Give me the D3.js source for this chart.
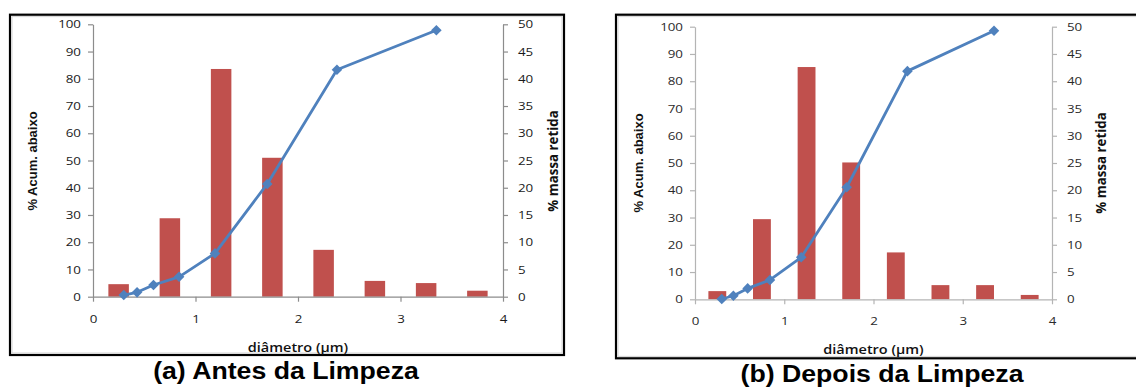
<!DOCTYPE html>
<html>
<head>
<meta charset="utf-8">
<script src="https://cdn.jsdelivr.net/npm/d3@7"></script>
<style>
  html, body { margin: 0; padding: 0; background: #fff; }
  svg { display: block; }
  .tick text { font-family: "Open Sans", "DejaVu Sans", sans-serif; }
</style>
</head>
<body>
<svg id="chart" width="1136" height="390"></svg>
<script>
// Particle size distribution, before and after cleaning
const diameters = [0.30, 0.43, 0.59, 0.84, 1.19, 1.70, 2.38, 3.35];   // µm
const cumBefore = [0.6, 1.6, 4.3, 7.3, 15.9, 41.4, 83.3, 97.8];        // % acumulado abaixo
const cumAfter  = [0.1, 1.3, 4.0, 7.1, 15.4, 41.1, 83.7, 98.5];
const sizeClasses = ["1", "2", "3", "4", "5", "6", "7", "8"];           // retained-mass size classes
const massBefore = [2.3, 14.4, 41.8, 25.5, 8.6, 2.9, 2.5, 1.1];         // % massa retida
const massAfter  = [1.5, 14.7, 42.6, 25.1, 8.6, 2.6, 2.6, 0.8];
const xTicks = [0, 1, 2, 3, 4];
const leftTicks = [0, 10, 20, 30, 40, 50, 60, 70, 80, 90, 100];
const rightTicks = [0, 5, 10, 15, 20, 25, 30, 35, 40, 45, 50];
const captions = ["(a) Antes da Limpeza", "(b) Depois da Limpeza"];
const xTitle = "diâmetro (µm)";
const leftTitle = "% Acum. abaixo";
const rightTitle = "% massa retida";

const svg = d3.select("#chart");
const BAR = "#C0504D", LINE = "#4F81BD";
const WIDEN = 1.16;   // horizontal text widening used throughout the figure

function drawPanel(p) {
  const g = svg.append("g");

  // frame
  g.append("rect")
    .attr("x", p.frame[0]).attr("y", p.frame[1])
    .attr("width", p.frame[2] - p.frame[0]).attr("height", p.frame[3] - p.frame[1])
    .attr("fill", "none").attr("stroke", "#000").attr("stroke-width", 2.2);
  g.append("rect")
    .attr("x", p.frame[0] + 2).attr("y", p.frame[1] + 2)
    .attr("width", p.frame[2] - p.frame[0] - 4).attr("height", p.frame[3] - p.frame[1] - 4)
    .attr("fill", "none").attr("stroke", "#c8c8c8").attr("stroke-width", 0.8);

  const x = d3.scaleLinear().domain([0, 4]).range([p.x0, p.x1]);
  const yL = d3.scaleLinear().domain([0, 100]).range([p.yB, p.yT]);
  const yR = d3.scaleLinear().domain([0, 50]).range([p.yB, p.yT]);
  const band = d3.scaleBand().domain(sizeClasses).range([p.x0, p.x1]).paddingInner(0.6).paddingOuter(0.3);

  // bars (% massa retida, right axis)
  g.append("g").selectAll("rect").data(p.mass).join("rect")
    .attr("x", (d, i) => band(sizeClasses[i]))
    .attr("width", band.bandwidth())
    .attr("y", d => yR(d))
    .attr("height", d => yR(0) - yR(d))
    .attr("fill", BAR);

  // axes
  const styleAxis = (sel) => {
    sel.selectAll("path, line").attr("stroke", p.axisColor).attr("stroke-width", 1.2);
    sel.selectAll("text")
      .attr("fill", p.textColor).attr("font-size", p.tickFont)
      .each(function () {
        const t = d3.select(this);
        const tx = +t.attr("x") || 0;
        t.attr("x", 0).attr("transform", `translate(${tx},0) scale(${WIDEN},1)`);
      });
  };
  g.append("g").attr("transform", `translate(0,${p.yB})`)
    .call(d3.axisBottom(x).tickValues(xTicks).tickFormat(d3.format("d")).tickSize(5).tickSizeOuter(0).tickPadding(13))
    .call(styleAxis);
  g.append("g").attr("transform", `translate(${p.x0},0)`)
    .call(d3.axisLeft(yL).tickValues(leftTicks).tickSize(5).tickSizeOuter(0).tickPadding(7))
    .call(styleAxis);
  g.append("g").attr("transform", `translate(${p.x1},0)`)
    .call(d3.axisRight(yR).tickValues(rightTicks).tickSize(5).tickSizeOuter(0).tickPadding(10))
    .call(styleAxis);

  // cumulative line (% acumulado, left axis)
  const pts = diameters.map((d, i) => [d, p.cum[i]]);
  g.append("path").datum(pts)
    .attr("fill", "none").attr("stroke", LINE).attr("stroke-width", 2.8)
    .attr("stroke-linejoin", "round")
    .attr("d", d3.line().x(d => x(d[0])).y(d => yL(d[1])));
  g.append("g").selectAll("path").data(pts).join("path")
    .attr("transform", d => `translate(${x(d[0])},${yL(d[1])}) rotate(45)`)
    .attr("d", d3.symbol(d3.symbolSquare, 56))
    .attr("fill", LINE);

  // axis titles
  g.append("text")
    .attr("transform", `translate(${(p.x0 + p.x1) / 2},${p.xTitleY}) scale(${WIDEN},1)`)
    .attr("text-anchor", "middle")
    .attr("font-family", "Open Sans, sans-serif").attr("font-weight", 600).attr("font-size", 12.5)
    .attr("fill", "#111").text(xTitle);
  g.append("text")
    .attr("transform", `translate(${p.leftTitleX},${p.titleMidY}) rotate(-90)`)
    .attr("text-anchor", "middle")
    .attr("font-family", "Liberation Sans, Arial, sans-serif").attr("font-weight", 700).attr("font-size", 13)
    .attr("fill", "#111").text(leftTitle);
  g.append("text")
    .attr("transform", `translate(${p.rightTitleX},${p.titleMidY}) rotate(-90)`)
    .attr("text-anchor", "middle")
    .attr("font-family", "Open Sans, sans-serif").attr("font-weight", 700).attr("font-size", 13.3)
    .attr("fill", "#111").text(rightTitle);

  // caption
  g.append("text")
    .attr("transform", `translate(${p.capX},${p.capY}) scale(${WIDEN},1)`)
    .attr("text-anchor", "middle")
    .attr("font-family", "Liberation Sans, Arial, sans-serif").attr("font-weight", 700).attr("font-size", 23)
    .attr("fill", "#000").text(p.caption);
}

drawPanel({
  frame: [10, 14.7, 564, 355],
  x0: 93, x1: 503, yT: 24.3, yB: 296.7,
  cum: cumBefore, mass: massBefore,
  axisColor: "#8c8c8c", textColor: "#1a1a1a", tickFont: 11.5,
  xTitleY: 352, leftTitleX: 37, rightTitleX: 558, titleMidY: 161,
  capX: 286, capY: 379, caption: captions[0]
});

drawPanel({
  frame: [616, 14.7, 1140, 358.3],
  x0: 695, x1: 1052, yT: 26.7, yB: 299.3,
  cum: cumAfter, mass: massAfter,
  axisColor: "#b4b4b4", textColor: "#2a2a2a", tickFont: 11.5,
  xTitleY: 354, leftTitleX: 643, rightTitleX: 1106, titleMidY: 163,
  capX: 882, capY: 382, caption: captions[1]
});
</script>
</body>
</html>
